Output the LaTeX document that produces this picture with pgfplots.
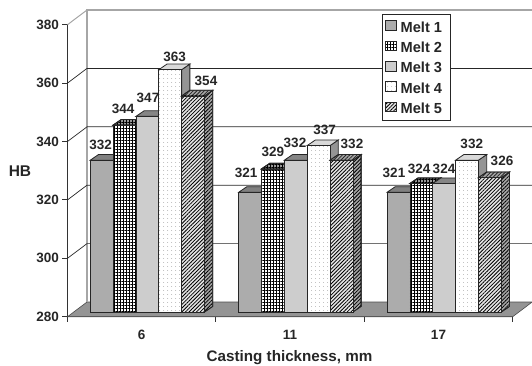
\documentclass[border=0pt]{standalone}
\usepackage{fontspec}
\setmainfont{Liberation Sans}
\usepackage{pgfplots}
\pgfplotsset{compat=1.18}
\usetikzlibrary{patterns.meta}

% Faces of the five melts
\tikzset{
  edge/.style={draw=black!85, line width=0.8pt},
  grain/.style={postaction={pattern={Dots[distance=2pt,radius=0.45pt]},pattern color=#1}},
  hatch/.style={postaction={pattern={Lines[angle=45,distance=2.6pt,line width=0.8pt]},pattern color=#1}},
  mesh/.style={postaction={pattern={Lines[angle=0,distance=3pt,line width=0.75pt]},pattern color=#1},
               postaction={pattern={Lines[angle=90,distance=3pt,line width=0.75pt]},pattern color=#1}},
  melt1 front/.style={edge, fill=black!30, grain=black!55},
  melt1 top/.style={edge, fill=black!50},
  melt1 side/.style={edge, fill=black!55},
  melt2 front/.style={edge, fill=white, mesh=black},
  melt2 top/.style={edge, fill=black!40, mesh=black},
  melt2 side/.style={edge, fill=black!40, mesh=black},
  melt3 front/.style={edge, fill=black!18, grain=black!35},
  melt3 top/.style={edge, fill=black!48},
  melt3 side/.style={edge, fill=black!55},
  melt4 front/.style={edge, fill=white, postaction={pattern={Dots[distance=4pt,radius=0.4pt]},pattern color=black!55}},
  melt4 top/.style={edge, fill=black!15},
  melt4 side/.style={edge, fill=black!42},
  melt5 front/.style={edge, fill=black!10, hatch=black},
  melt5 top/.style={edge, fill=black!35, hatch=black!85},
  melt5 side/.style={edge, fill=black!35, hatch=black},
  melt label/.style={font=\bfseries\fontsize{13.5}{15}\selectfont, text=black!85, inner sep=0pt, anchor=center},
}

% One prism: group centre, series number, value, label offsets in pt
\newcommand{\bw}{0.15398}
\newcommand{\dpx}{0.0553}
\newcommand{\dpy}{1.92}
\newcommand{\meltbar}[5]{%
  \pgfmathsetmacro\xl{#1+(#2-3.5)*\bw}%
  \pgfmathsetmacro\xr{\xl+\bw}%
  \pgfmathsetmacro\xld{\xl+\dpx}%
  \pgfmathsetmacro\xrd{\xr+\dpx}%
  \pgfmathsetmacro\ytop{#3+\dpy}%
  \pgfmathsetmacro\sh{(#2-3)*22.85}%
  \pgfmathsetmacro\nx{\sh+#4}%
  \edef\temp{%
    \noexpand\addplot[forget plot, melt#2 side] coordinates {(\xr,280)(\xrd,281.92)(\xrd,\ytop)(\xr,#3)} --cycle;
    \noexpand\addplot[forget plot, melt#2 top] coordinates {(\xl,#3)(\xr,#3)(\xrd,\ytop)(\xld,\ytop)} --cycle;
    \noexpand\addplot[forget plot, ybar, bar width=22.85pt, bar shift=\sh pt, melt#2 front] coordinates {(#1,#3)};
    \noexpand\node[melt label, xshift=\nx pt, yshift=#5pt] at (axis cs:#1,#3) {#3};
  }%
  \temp
}

\begin{document}
\begin{tikzpicture}
\useasboundingbox (0,0) rectangle (532pt,365pt);

% Frame: floor, walls, gridlines, ticks and axis titles
\begin{axis}[
  at={(67.5pt,48.3pt)}, anchor=south west,
  scale only axis, width=445.2pt, height=292pt,
  xmin=0, xmax=3, ymin=280, ymax=380, clip=false,
  axis lines=left, axis line style={-, draw=black!80, line width=0.9pt},
  tick align=outside, major tick length=5pt,
  tick style={draw=black!80, line width=0.9pt},
  xtick={0,1,2,3}, xticklabels={},
  ytick={280,300,320,340,360,380},
  extra x ticks={0.5,1.5,2.5}, extra x tick labels={6,11,17},
  extra x tick style={major tick length=0pt, xticklabel style={yshift=-6.5pt}},
  /pgf/number format/assume math mode=true,
  tick label style={font=\bfseries\fontsize{13.5}{15}\selectfont, text=black!85},
  xticklabel style={yshift=-3pt},
  ylabel={HB}, ylabel style={rotate=-90, anchor=center, at={(axis description cs:-0.1067,0.499)},
    font=\bfseries\fontsize{15.5}{17}\selectfont, text=black!85},
  xlabel={Casting thickness, mm}, xlabel style={anchor=center, at={(axis description cs:0.4987,-0.1414)},
    font=\bfseries\fontsize{15.2}{17}\selectfont, text=black!85},
]
\addplot[draw=black!70, line width=0.6pt, fill=black!42] coordinates {(0,280)(0.1314,285.03)(3.1314,285.03)(3,280)} --cycle;
\addplot[draw=black!35, line width=1.5pt] coordinates {(0.1314,285.03)(0.1314,385.03)(3.1314,385.03)};
\addplot[draw=black!35, line width=1pt] coordinates {(0,380)(0.1314,385.03)};
\addplot[draw=black!85, line width=0.7pt] coordinates {(0,300)(0.1314,305.03)(3.1314,305.03)};
\addplot[draw=black!85, line width=0.7pt] coordinates {(0,320)(0.1314,325.03)(3.1314,325.03)};
\addplot[draw=black!85, line width=0.7pt] coordinates {(0,340)(0.1314,345.03)(3.1314,345.03)};
\addplot[draw=black!85, line width=0.7pt] coordinates {(0,360)(0.1314,365.03)(3.1314,365.03)};
\end{axis}

% Bars, standing a little behind the front edge of the floor
\begin{axis}[
  at={(73.2pt,53pt)}, anchor=south west,
  scale only axis, width=445.2pt, height=292pt,
  xmin=0, xmax=3, ymin=280, ymax=380, hide axis,
  legend style={at={(0.6936,1.0205)}, anchor=north west, draw=black!85, line width=0.8pt,
    fill=white, inner xsep=3pt, inner ysep=6pt, row sep=7.5pt,
    font=\bfseries\fontsize{14.6}{17}\selectfont, text=black!85,
    nodes={inner sep=1pt, text height=10.8pt, text depth=0pt}},
  legend cell align=left,
  legend image code/.code={\draw[#1] (0pt,-3.5pt) rectangle (11pt,6pt);},
]
\meltbar{0.5}{1}{332}{-1}{15.2}
\meltbar{0.5}{2}{344}{-1.5}{16}
\meltbar{0.5}{3}{347}{0.6}{18.4}
\meltbar{0.5}{4}{363}{4.4}{12.9}
\meltbar{0.5}{5}{354}{12.9}{14.9}

\meltbar{1.5}{1}{321}{-4}{19.6}
\meltbar{1.5}{2}{329}{0}{17}
\meltbar{1.5}{3}{332}{-0.8}{17.2}
\meltbar{1.5}{4}{337}{6}{15.6}
\meltbar{1.5}{5}{332}{10.5}{16.2}

\meltbar{2.5}{1}{321}{-4.5}{19.3}
\meltbar{2.5}{2}{324}{-2.3}{14.8}
\meltbar{2.5}{3}{324}{-0.2}{14.8}
\meltbar{2.5}{4}{332}{4.7}{16.2}
\meltbar{2.5}{5}{326}{12.1}{17}

\addlegendimage{melt1 front}\addlegendentry{\hspace*{2.5pt}Melt 1\hspace*{4pt}}
\addlegendimage{melt2 front}\addlegendentry{\hspace*{2.5pt}Melt 2\hspace*{4pt}}
\addlegendimage{melt3 front}\addlegendentry{\hspace*{2.5pt}Melt 3\hspace*{4pt}}
\addlegendimage{melt4 front}\addlegendentry{\hspace*{2.5pt}Melt 4\hspace*{4pt}}
\addlegendimage{melt5 front}\addlegendentry{\hspace*{2.5pt}Melt 5\hspace*{4pt}}
\end{axis}
\end{tikzpicture}
\end{document}
